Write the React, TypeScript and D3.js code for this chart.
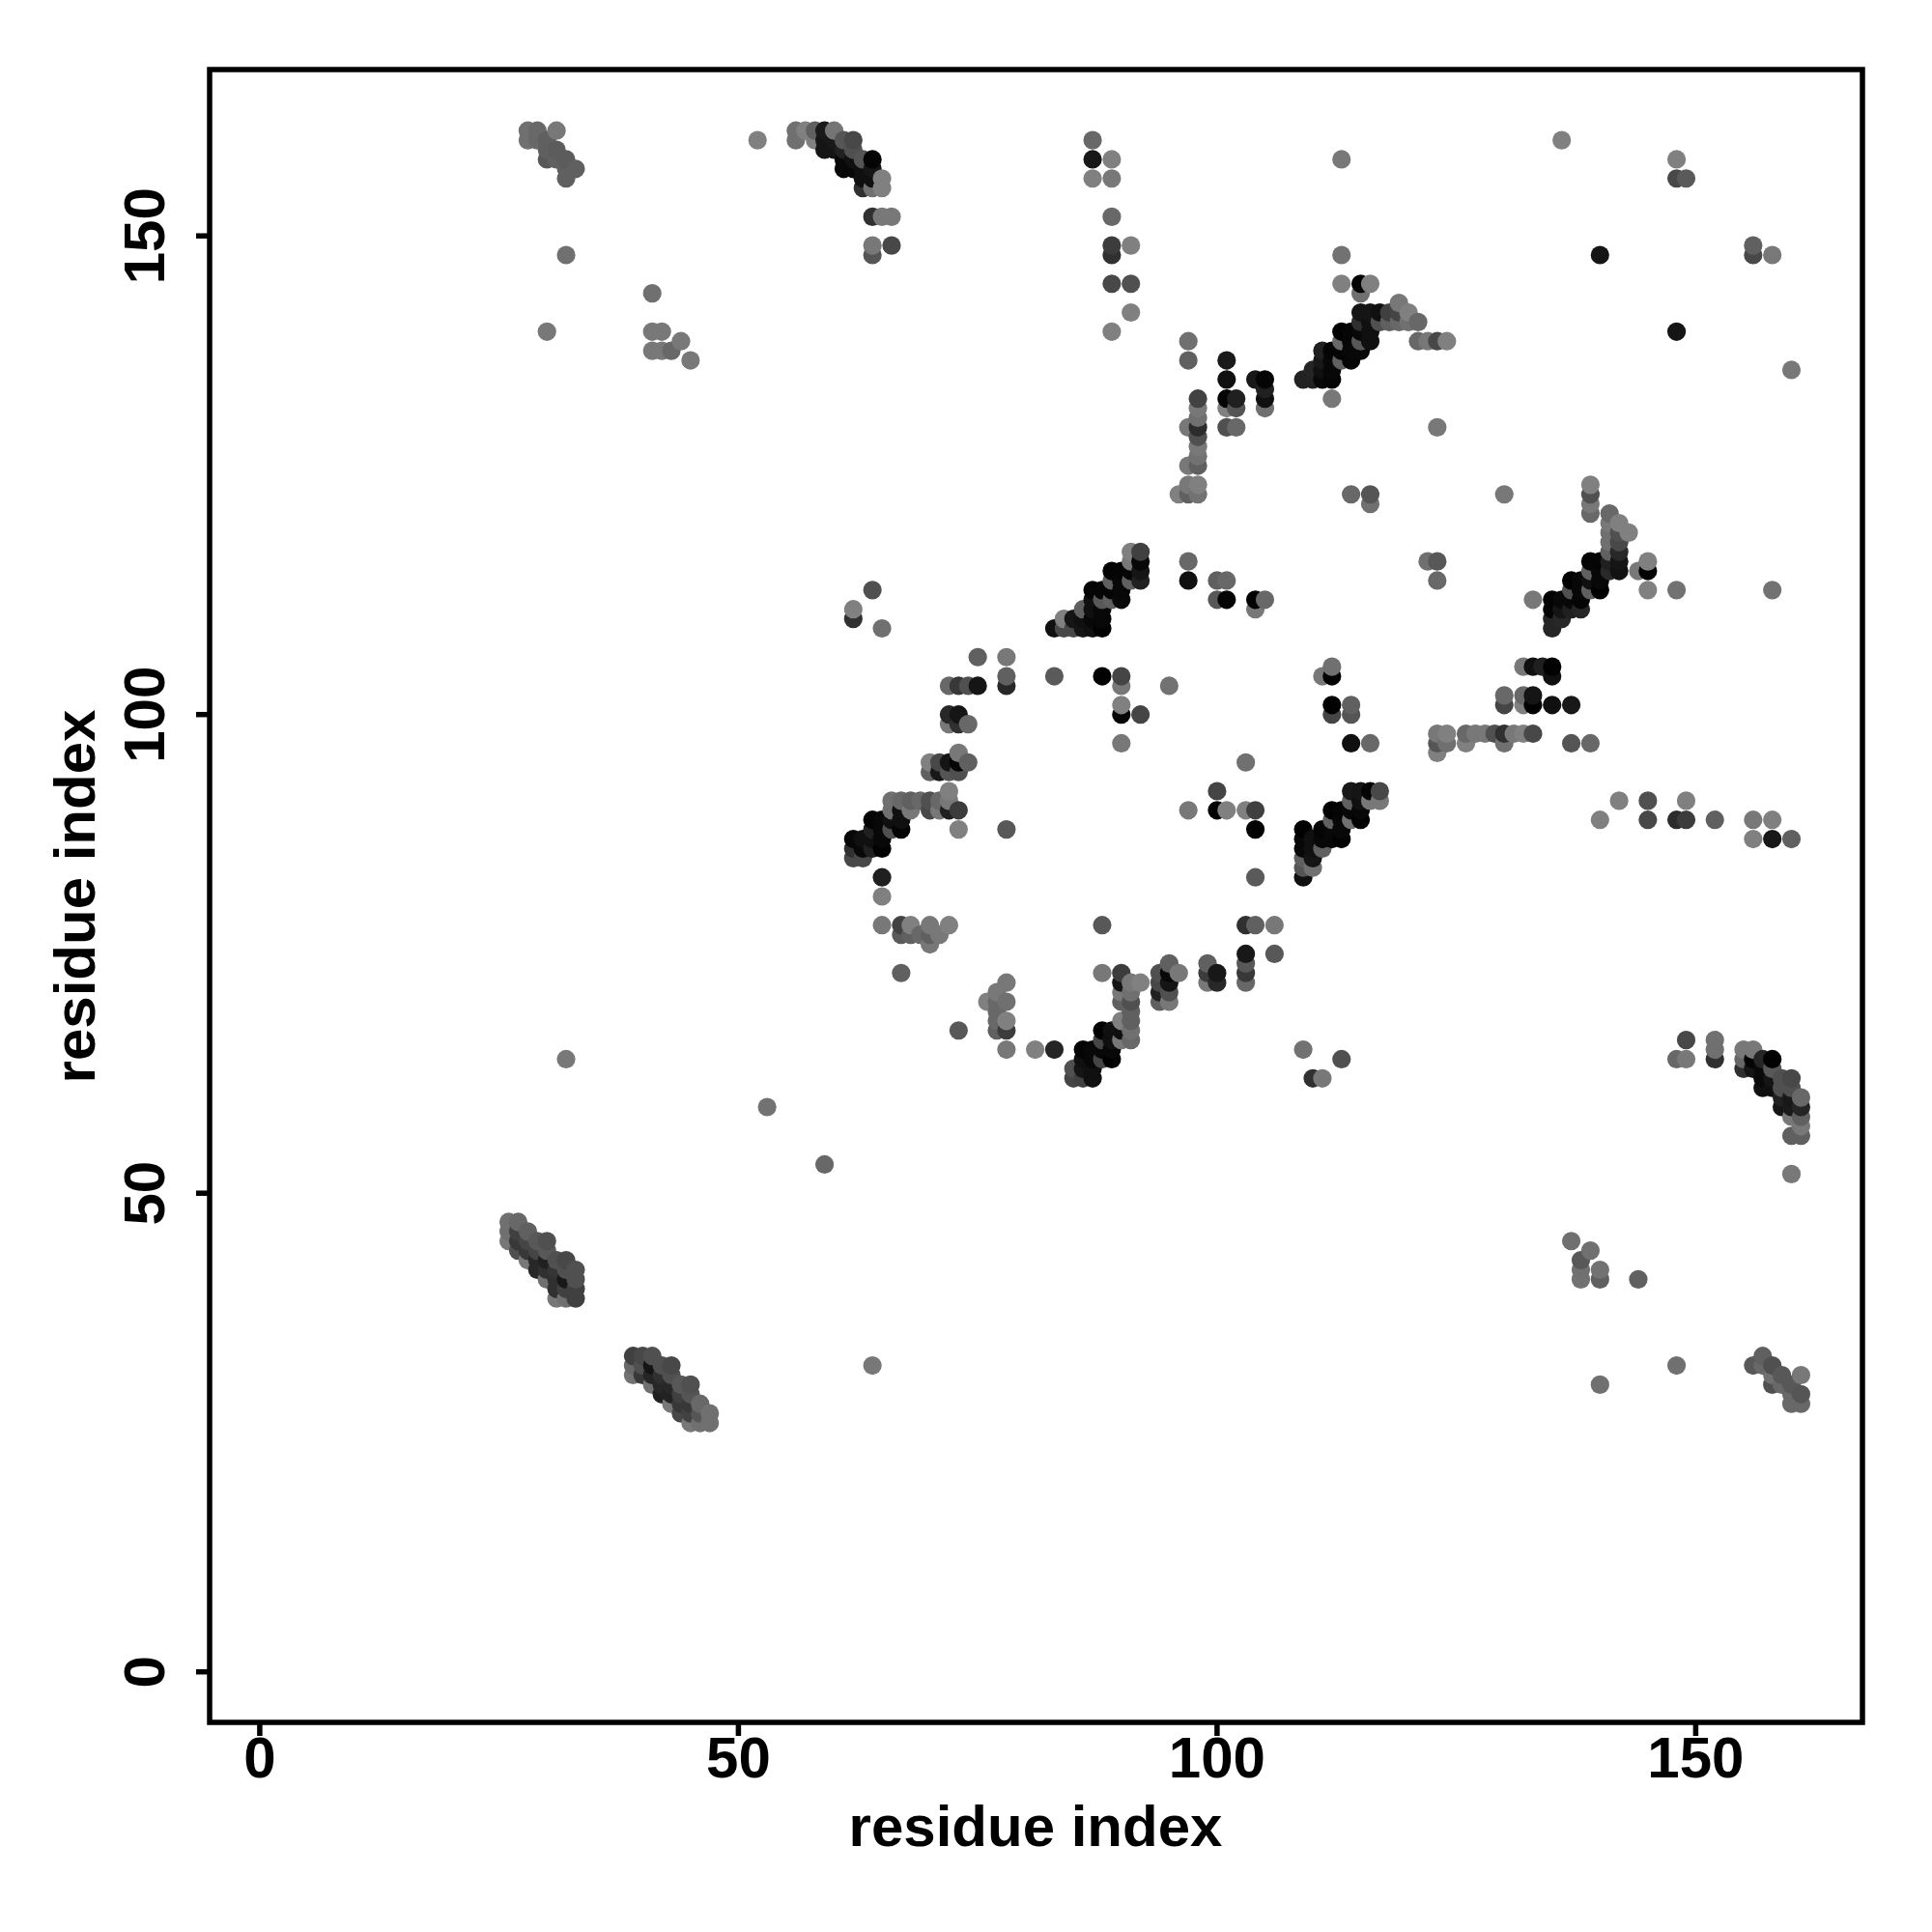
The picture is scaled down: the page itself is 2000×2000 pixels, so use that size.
import React from 'react';
import * as d3 from 'd3';

type C = [number, number, number];

const tickValues = [0, 50, 100, 150];
const axisTitle = 'residue index';

const isolatedContacts: C[] = [
  [52,160,0x80],[30,140,0x78],[32,148,0x70],[32,64,0x78],[53,59,0x72],[59,53,0x68],[64,32,0x78],
  [41,144,0x70],[41,140,0x78],[42,140,0x78],[44,139,0x78],[41,138,0x78],[42,138,0x78],[43,138,0x68],[45,137,0x78],
  [136,160,0x80],[140,148,0x15],[148,158,0x80],[148,156,0x48],[149,156,0x5a],[148,140,0x15],
  [156,149,0x60],[156,148,0x48],[158,148,0x78],[160,136,0x78],
  [137,45,0x70],[139,44,0x70],[138,43,0x58],[138,42,0x70],[138,41,0x72],[140,42,0x72],[140,41,0x60],[144,41,0x60],[148,32,0x70],[140,30,0x70],
  [160,52,0x78],
];

const topLeftCluster: C[] = [
  [28,161,0x70],[29,161,0x68],[31,161,0x78],[28,160,0x70],[29,160,0x68],[30,160,0x60],[30,159,0x60],[31,159,0x5c],
  [30,158,0x58],[31,158,0x60],[32,158,0x5c],[32,157,0x60],[33,157,0x60],[32,156,0x60],
];

const topMiddleCluster: C[] = [
  [56,161,0x70],[57,161,0x80],[58,161,0x60],[59,161,0x1a],[60,161,0x75],[56,160,0x70],[58,160,0x80],[59,160,0x15],[60,160,0x18],
  [61,160,0x55],[62,160,0x48],[59,159,0x15],[60,159,0x15],[61,159,0x20],[62,159,0x50],[61,158,0x08],[62,158,0x10],[63,158,0x55],
  [61,157,0x08],[62,157,0x08],[63,157,0x10],[63,156,0x10],[63,155,0x30],[64,158,0x05],[64,157,0x15],[64,156,0x10],[64,155,0x70],
  [65,156,0x80],[65,155,0x80],[64,152,0x30],[65,152,0x78],[66,152,0x78],[64,149,0x78],[64,148,0x55],[66,149,0x48],
];

const upperColumnContacts: C[] = [
  [87,160,0x68],[87,158,0x18],[89,158,0x80],[87,156,0x80],[89,156,0x78],[89,152,0x68],[89,149,0x3c],[91,149,0x80],[89,148,0x30],
  [89,145,0x48],[91,145,0x50],[91,142,0x80],[89,140,0x80],
  [113,158,0x78],[113,148,0x72],[113,145,0x80],[115,145,0x02],[116,145,0x80],[115,144,0x70],
];

const centralColumn: C[] = [
  [97,139,0x70],[97,137,0x60],[101,137,0x1a],[101,135,0x10],[101,133,0x05],[102,133,0x20],[104,135,0x18],[105,135,0x05],[105,134,0x20],
  [105,133,0x10],[98,133,0x42],[98,132,0x78],[101,132,0x80],[102,132,0x55],[105,132,0x70],[98,131,0x70],[98,130,0x2c],[98,129,0x50],
  [98,128,0x78],[98,127,0x72],[98,126,0x60],[97,130,0x78],[97,126,0x78],[97,124,0x78],[98,124,0x80],[96,123,0x80],[97,123,0x60],[98,123,0x72],
  [101,130,0x50],[102,130,0x68],[112,133,0x78],[123,130,0x78],[114,123,0x68],[116,123,0x55],[116,122,0x70],
];

const upperDiagonalBand: C[] = [
  [109,135,0x22],[110,135,0x22],[110,136,0x25],[111,138,0x20],[111,137,0x18],[111,136,0x10],[111,135,0x08],[112,135,0x05],[112,138,0x05],
  [112,137,0x08],[112,136,0x08],[113,140,0x02],[113,139,0x68],[113,138,0x05],[113,137,0x60],[114,140,0x05],[114,139,0x08],[114,138,0x08],[114,137,0x05],
  [115,142,0x15],[115,141,0x30],[115,140,0x08],[115,139,0x58],[115,138,0x08],[116,142,0x15],[116,141,0x10],[116,140,0x10],[116,139,0x10],
  [117,142,0x10],[117,141,0x50],[118,142,0x40],[118,141,0x60],[119,143,0x78],[119,142,0x45],[119,141,0x68],[120,142,0x80],[120,141,0x70],[121,141,0x68],
  [121,139,0x68],[122,139,0x78],[123,139,0x48],[124,139,0x80],
];

const midLeftContacts: C[] = [
  [64,113,0x50],[62,111,0x80],[62,110,0x30],[65,109,0x70],[97,116,0x68],[97,114,0x10],[100,114,0x60],[101,114,0x68],[100,112,0x58],[101,112,0x05],
  [104,112,0x02],[105,112,0x68],[104,111,0x78],[75,106,0x60],[78,106,0x78],[78,104,0x60],[78,103,0x28],[83,104,0x5a],[88,104,0x02],[90,104,0x45],
  [90,103,0x78],[95,103,0x72],[90,101,0x80],[90,100,0x05],[92,100,0x45],[90,97,0x78],
  [72,103,0x68],[73,103,0x38],[74,103,0x50],[75,103,0x15],[72,100,0x28],[73,100,0x15],[72,99,0x78],[73,99,0x30],[74,99,0x68],
  [73,96,0x78],[74,95,0x60],[73,95,0x05],[72,95,0x15],[71,95,0x48],[70,95,0x80],[70,94,0x60],[71,94,0x18],[72,94,0x55],[73,94,0x50],
];

const midDiagonalBand: C[] = [
  [83,109,0x10],[84,109,0x48],[85,109,0x48],[86,109,0x15],[87,109,0x10],[88,109,0x02],[84,110,0x80],[85,110,0x15],[86,111,0x60],[86,110,0x10],
  [87,113,0x05],[87,112,0x10],[87,111,0x10],[87,110,0x08],[88,113,0x05],[88,112,0x58],[88,111,0x08],[88,110,0x08],
  [89,115,0x05],[89,114,0x60],[89,113,0x05],[89,112,0x60],[90,115,0x05],[90,114,0x08],[90,113,0x08],[90,112,0x0a],
  [91,117,0x80],[91,116,0x78],[91,115,0x05],[91,114,0x60],[92,117,0x40],[92,116,0x08],[92,115,0x15],[92,114,0x20],
];

const lowerLeftBand: C[] = [
  [66,91,0x70],[67,91,0x68],[68,91,0x60],[69,91,0x68],[70,91,0x50],[71,91,0x68],[72,92,0x80],[72,91,0x78],
  [66,90,0x70],[67,90,0x10],[68,90,0x78],[70,90,0x48],[71,90,0x78],[72,90,0x20],[73,90,0x3c],
  [64,89,0x05],[65,89,0x08],[66,89,0x10],[67,89,0x10],[64,88,0x20],[65,88,0x08],[66,88,0x50],[67,88,0x05],[73,88,0x80],[78,88,0x58],
  [62,87,0x08],[63,87,0x10],[64,87,0x10],[65,87,0x08],[62,86,0x30],[63,86,0x08],[64,86,0x20],[65,86,0x02],[62,85,0x48],[63,85,0x48],
  [65,83,0x20],[65,81,0x80],
  [65,78,0x78],[67,78,0x42],[68,78,0x80],[70,78,0x78],[72,78,0x80],[67,77,0x5a],[68,77,0x60],[69,77,0x68],[70,77,0x60],[71,77,0x78],[70,76,0x78],[67,73,0x60],
];

const centreRightContacts: C[] = [
  [97,90,0x78],[100,92,0x45],[100,90,0x02],[101,90,0x80],[103,90,0x80],[104,90,0x40],[104,88,0x02],[104,83,0x5a],[88,78,0x58],
  [103,78,0x30],[104,78,0x60],[106,78,0x78],[106,75,0x58],[103,75,0x18],[103,74,0x58],[103,73,0x38],[103,72,0x68],
  [99,74,0x60],[99,73,0x3c],[99,72,0x78],[100,73,0x18],[100,72,0x28],
  [94,73,0x50],[94,72,0x48],[94,71,0x20],[94,70,0x60],[95,74,0x60],[95,73,0x08],[95,72,0x15],[95,71,0x50],[95,70,0x78],[96,73,0x78],
  [112,105,0x70],[111,104,0x78],[112,104,0x02],[112,101,0x02],[112,100,0x45],[114,101,0x60],[114,100,0x55],[114,97,0x10],[116,97,0x68],[103,95,0x70],
  [109,65,0x72],[113,64,0x50],[110,62,0x30],[111,62,0x78],
];

const lowerCentreBand: C[] = [
  [88,73,0x78],[90,73,0x3c],[90,72,0x15],[91,72,0x78],[92,72,0x80],[90,71,0x78],[91,71,0x70],[90,70,0x60],[91,70,0x50],[91,69,0x60],[91,68,0x60],
  [91,67,0x70],[91,66,0x68],[90,66,0x78],[90,68,0x80],[89,67,0x10],[89,66,0x10],[90,67,0x10],[88,67,0x02],[88,66,0x45],[89,65,0x08],[89,64,0x02],
  [88,65,0x08],[88,64,0x45],[86,65,0x05],[87,65,0x08],[86,64,0x10],[87,64,0x08],[85,63,0x50],[86,63,0x15],[87,63,0x10],[85,62,0x45],[86,62,0x40],[87,62,0x10],
  [83,65,0x25],[81,65,0x80],[78,65,0x78],[78,67,0x3c],[78,68,0x80],[77,67,0x60],[77,68,0x68],[77,69,0x68],[77,70,0x68],[78,70,0x70],[76,70,0x80],[77,71,0x78],[78,72,0x78],[73,67,0x58],
];

const rightDiagonalLow: C[] = [
  [109,88,0x02],[109,87,0x08],[109,86,0x08],[109,85,0x60],[109,84,0x55],[109,83,0x10],[110,87,0x10],[110,86,0x10],[110,85,0x15],[110,84,0x70],
  [111,88,0x05],[111,87,0x08],[111,86,0x60],[112,90,0x02],[112,89,0x60],[112,88,0x08],[112,87,0x08],[113,90,0x05],[113,89,0x08],[113,88,0x08],[113,87,0x02],
  [114,92,0x18],[114,91,0x60],[114,90,0x08],[114,89,0x70],[115,92,0x15],[115,91,0x10],[115,90,0x08],[115,89,0x02],[116,92,0x05],[116,91,0x78],[117,92,0x48],[117,91,0x78],
];

const rightDiagonalHigh: C[] = [
  [122,116,0x70],[123,116,0x58],[123,114,0x68],[130,123,0x78],[133,112,0x78],
  [139,124,0x80],[139,123,0x50],[139,122,0x78],[139,121,0x68],[141,121,0x68],[141,120,0x78],[142,120,0x80],[143,119,0x80],[141,119,0x70],[142,119,0x50],
  [141,118,0x70],[142,118,0x48],[141,117,0x60],[142,117,0x28],[142,116,0x15],[142,115,0x12],[141,116,0x20],[141,115,0x2a],[140,116,0x05],[140,115,0x08],
  [139,116,0x05],[139,115,0x60],[140,114,0x08],[140,113,0x02],[139,114,0x10],[139,113,0x60],[138,114,0x08],[138,113,0x08],[138,112,0x05],[138,111,0x25],
  [137,114,0x02],[137,113,0x50],[137,112,0x08],[137,111,0x20],[136,112,0x08],[136,111,0x15],[136,110,0x28],[135,112,0x02],[135,111,0x05],[135,110,0x25],[135,109,0x25],
  [144,115,0x78],[145,116,0x80],[145,115,0x02],[145,113,0x80],[148,113,0x72],[158,113,0x72],
  [132,105,0x78],[133,105,0x10],[134,105,0x20],[135,105,0x02],[135,104,0x10],
  [130,102,0x68],[130,101,0x45],[132,102,0x68],[132,101,0x80],[133,102,0x15],[133,101,0x02],[135,101,0x10],[137,101,0x18],
];

const row98Contacts: C[] = [
  [123,98,0x78],[124,98,0x80],[126,98,0x68],[127,98,0x78],[128,98,0x78],[129,98,0x50],[130,98,0x30],[131,98,0x78],[132,98,0x80],[133,98,0x48],
  [123,97,0x55],[124,97,0x70],[126,97,0x80],[130,97,0x70],[137,97,0x55],[139,97,0x68],[123,96,0x80],
  [142,91,0x80],[145,91,0x50],[149,91,0x80],[140,89,0x80],[145,89,0x48],[148,89,0x2c],[149,89,0x3c],[152,89,0x60],[156,89,0x78],[158,89,0x80],
  [156,87,0x80],[158,87,0x18],[160,87,0x60],
];

const lowerRightArc: C[] = [
  [149,66,0x48],[152,66,0x70],[152,65,0x70],[152,64,0x30],[148,64,0x68],[149,64,0x78],
  [155,65,0x78],[156,65,0x78],[155,64,0x68],[155,63,0x30],[156,64,0x05],[156,63,0x15],[157,64,0x25],[158,64,0x02],[157,63,0x0a],[157,62,0x0a],[157,61,0x10],
  [158,63,0x58],[158,62,0x15],[158,61,0x10],[159,62,0x50],[159,61,0x50],[160,62,0x48],[160,61,0x50],[159,60,0x20],[159,59,0x15],[160,60,0x18],[160,59,0x1a],
  [161,60,0x68],[161,59,0x25],[160,58,0x78],[161,58,0x60],[161,57,0x78],[160,56,0x60],[161,56,0x60],
];

const cornerCluster: C[] = [
  [156,32,0x58],[157,33,0x60],[157,32,0x68],[158,32,0x50],[158,31,0x70],[158,30,0x50],[159,31,0x58],[159,30,0x68],[160,30,0x58],[161,31,0x78],[161,29,0x55],[160,29,0x68],[160,28,0x68],[161,28,0x68],
];

const strand47: C[] = [
  [26,47,0x70],[27,47,0x68],[26,46,0x70],[26,45,0x78],[27,46,0x40],[27,45,0x38],[28,46,0x60],[28,45,0x45],[27,44,0x50],[28,44,0x38],[28,43,0x78],
  [29,45,0x58],[30,45,0x50],[29,44,0x45],[30,44,0x58],[29,43,0x28],[29,42,0x28],[30,43,0x20],[30,42,0x30],[30,41,0x70],
  [31,43,0x50],[31,42,0x35],[31,41,0x30],[31,40,0x30],[32,43,0x48],[32,42,0x50],[32,41,0x18],[32,40,0x40],[33,42,0x50],[33,41,0x50],[33,40,0x40],[31,39,0x78],[32,39,0x70],[33,39,0x40],
];

const strand33: C[] = [
  [39,33,0x40],[40,33,0x48],[41,33,0x50],[39,32,0x68],[39,31,0x72],[40,32,0x50],[40,31,0x38],[41,32,0x15],[41,31,0x25],[42,32,0x50],[43,32,0x48],[42,31,0x30],[43,31,0x50],
  [41,30,0x70],[42,30,0x28],[43,30,0x28],[42,29,0x20],[43,29,0x22],[43,28,0x78],[44,30,0x58],[45,30,0x50],[44,29,0x40],[45,29,0x55],[44,28,0x38],[45,28,0x38],
  [44,27,0x48],[45,27,0x42],[46,28,0x68],[46,27,0x55],[47,27,0x70],[45,26,0x78],[46,26,0x70],[47,26,0x70],
];

const clusters = [
  isolatedContacts, topLeftCluster, topMiddleCluster, upperColumnContacts, centralColumn, upperDiagonalBand, midLeftContacts,
  midDiagonalBand, lowerLeftBand, centreRightContacts, lowerCentreBand, rightDiagonalLow, rightDiagonalHigh, row98Contacts,
  lowerRightArc, cornerCluster, strand47, strand33,
];

const FONT = '"Liberation Sans", Arial, sans-serif';

export default function App() {
  const x = d3.scaleLinear().domain([0, 150]).range([268.9, 1755.4]);
  const y = d3.scaleLinear().domain([0, 150]).range([1730.7, 244.2]);
  const points = d3.sort(clusters.flat(), (a: C) => a[0], (a: C) => a[1]);
  const box = { left: 217, right: 1928, top: 72, bottom: 1783 };
  const tick = 14;
  const sw = 5.5;
  return (
    <svg width={2000} height={2000} viewBox="0 0 2000 2000"
      style={{ position: 'absolute', left: 0, top: 0, background: '#fff' }}>
      {points.map((p: C, i: number) => (
        <circle key={i} cx={x(p[0])} cy={y(p[1])} r={9.6} fill={d3.rgb(p[2], p[2], p[2]).formatHex()} />
      ))}
      <rect x={box.left} y={box.top} width={box.right - box.left} height={box.bottom - box.top}
        fill="none" stroke="#000" strokeWidth={sw} />
      {tickValues.map((t) => (
        <g key={t}>
          <line x1={x(t)} x2={x(t)} y1={box.bottom} y2={box.bottom + tick} stroke="#000" strokeWidth={sw} />
          <text x={x(t)} y={1840} textAnchor="middle" fontFamily={FONT} fontWeight="bold" fontSize={60} fill="#000">{t}</text>
          <line x1={box.left} x2={box.left - tick} y1={y(t)} y2={y(t)} stroke="#000" strokeWidth={sw} />
          <text transform={`translate(170,${y(t)}) rotate(-90)`} textAnchor="middle" fontFamily={FONT} fontWeight="bold" fontSize={60} fill="#000">{t}</text>
        </g>
      ))}
      <text x={1072} y={1911} textAnchor="middle" fontFamily={FONT} fontWeight="bold" fontSize={60} fill="#000">{axisTitle}</text>
      <text transform="translate(98,928) rotate(-90)" textAnchor="middle" fontFamily={FONT} fontWeight="bold" fontSize={60} fill="#000">{axisTitle}</text>
    </svg>
  );
}
